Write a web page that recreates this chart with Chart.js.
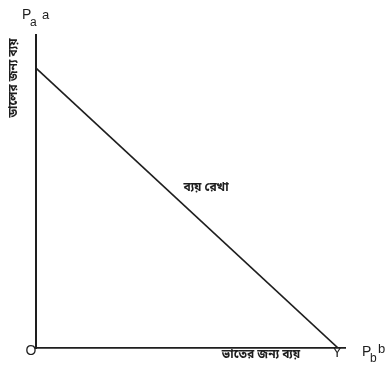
<!DOCTYPE html>
<html>
<head>
<meta charset="utf-8">
<script src="https://cdn.jsdelivr.net/npm/chart.js@4"></script>
<style>
  html, body { margin:0; padding:0; background:#fff; }
  #wrap { width:388px; height:368px; }
</style>
</head>
<body>
<div id="wrap"><canvas id="budget"></canvas></div>
<script>
'use strict';

// budget line: all money on a (y) ... all money on b (x)
const budgetX = [0, 10];
const budgetY = [10, 0];
const xRange = [0, 10.23];
const yRange = [0, 11.18];

const yTitle = 'ডালের জন্য ব্যয়';
const xTitle = 'ভাতের জন্য ব্যয়';
const lineTitle = 'ব্যয় রেখা';
const originLabel = 'O';
const endLabel = 'Y';
const goodA = ['P', 'a', 'a'];
const goodB = ['P', 'b', 'b'];

const INK = '#1e1e1e';
const BN = '"Noto Sans Bengali","Noto Sans",sans-serif';
const LAT = '"Liberation Sans",sans-serif';

/* ── LABELS ──────────────────────────────── */
const labelPlugin = {
  id: 'labels',
  afterDraw(chart) {
    const { ctx, scales: { x, y } } = chart;
    const left = x.getPixelForValue(0), bottom = y.getPixelForValue(0);
    ctx.save();
    ctx.fillStyle = INK;
    ctx.textBaseline = 'middle';

    // P_a a at top of vertical axis
    ctx.textAlign = 'left';
    ctx.font = '14px ' + LAT;
    ctx.fillText(goodA[0], left - 14, 15);
    ctx.font = '12px ' + LAT;
    ctx.fillText(goodA[1], left - 6, 23);
    ctx.font = '13px ' + LAT;
    ctx.fillText(goodA[2], left + 6, 15);

    // P_b b beside horizontal axis
    ctx.font = '14px ' + LAT;
    ctx.fillText(goodB[0], 362, bottom + 4);
    ctx.font = '12px ' + LAT;
    ctx.fillText(goodB[1], 370, bottom + 11);
    ctx.font = '13px ' + LAT;
    ctx.fillText(goodB[2], 378, bottom + 1);

    // origin and intercept
    ctx.font = '14px ' + LAT;
    ctx.textAlign = 'center';
    ctx.fillText(originLabel, left - 5, bottom + 3);
    ctx.fillText(endLabel, x.getPixelForValue(budgetX[1]) - 1, bottom + 5);

    // bengali captions
    ctx.font = 'bold 12px ' + BN;
    ctx.fillText(xTitle, 261, bottom + 8);
    ctx.fillText(lineTitle, 206, 189);
    ctx.translate(15, 78);
    ctx.rotate(-Math.PI / 2);
    ctx.fillText(yTitle, 0, 0);
    ctx.restore();
  }
};

new Chart(document.getElementById('budget'), {
  type: 'scatter',
  data: {
    datasets: [{
      data: budgetX.map((v, i) => ({ x: v, y: budgetY[i] })),
      showLine: true,
      borderColor: INK,
      borderWidth: 1.7,
      pointRadius: 0,
      fill: false
    }]
  },
  options: {
    responsive: true,
    maintainAspectRatio: false,
    animation: false,
    layout: { padding: { left: 36, right: 43, top: 35, bottom: 20 } },
    plugins: { legend: { display: false }, tooltip: { enabled: false } },
    scales: {
      x: {
        type: 'linear', min: xRange[0], max: xRange[1],
        ticks: { display: false },
        grid: { display: false, drawTicks: false },
        border: { color: INK, width: 1.7 }
      },
      y: {
        type: 'linear', min: yRange[0], max: yRange[1],
        ticks: { display: false },
        grid: { display: false, drawTicks: false },
        border: { color: INK, width: 2 }
      }
    }
  },
  plugins: [labelPlugin]
});
</script>
</body>
</html>
